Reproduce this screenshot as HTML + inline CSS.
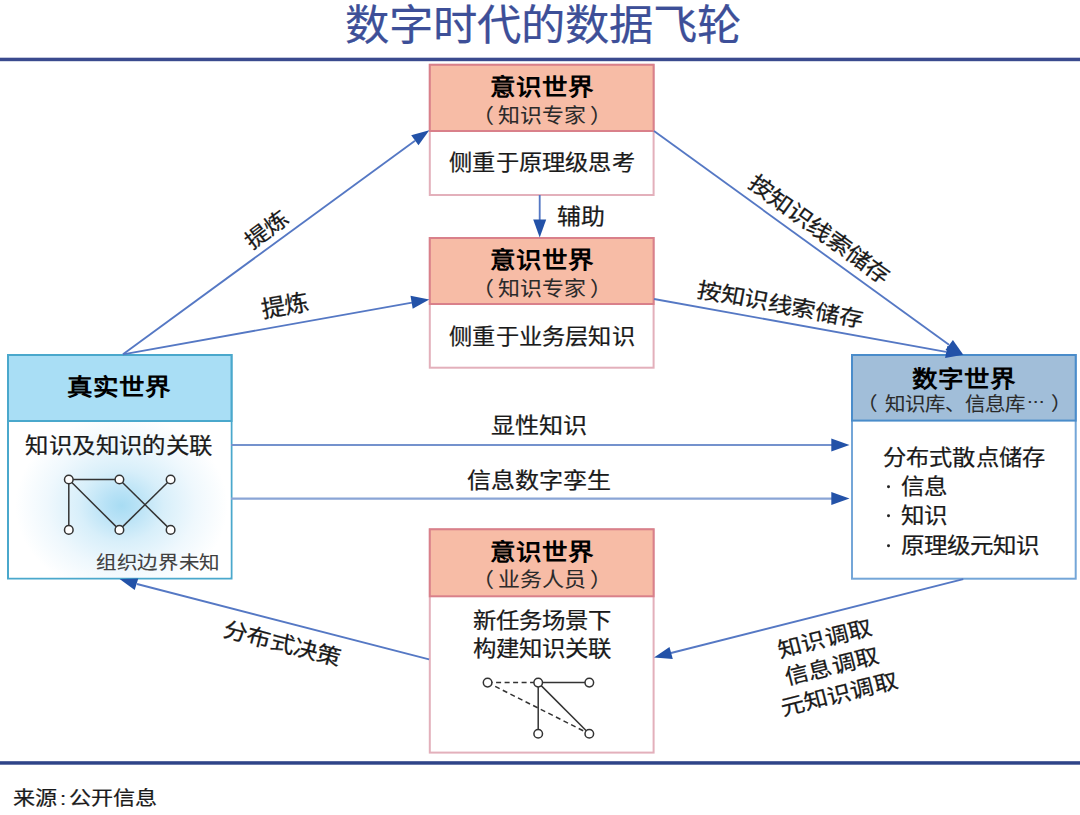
<!DOCTYPE html>
<html lang="zh-CN"><head><meta charset="utf-8"><style>
html,body{margin:0;padding:0;background:#fff;}
body{width:1080px;height:815px;position:relative;overflow:hidden;font-family:"Liberation Sans",sans-serif;color:#1a1a1a;text-spacing-trim:space-all;font-weight:400;-webkit-text-stroke:0.25px currentColor;}
.t{position:absolute;white-space:nowrap;line-height:1;transform:translate(-50%,-50%) scale(1,0.92);}
.b{font-weight:bold;color:#000;transform:translate(-50%,-50%) scale(1,0.9);-webkit-text-stroke:0;}
.s{font-size:21.9px;transform:translate(-50%,-50%) scale(1,0.92);color:#2a2a2a;-webkit-text-stroke:0.1px currentColor;}
.pl{margin-right:4px}.pr{margin-left:4px}
.dots{letter-spacing:-1px;margin-left:2px;position:relative;top:-5px;}
.bl{position:absolute;left:882px;white-space:nowrap;line-height:1;font-size:23.5px;transform:translate(0,-50%) scale(1,0.93);padding-left:18.5px;}
.bl i{position:absolute;left:4.6px;top:50%;width:3.4px;height:3.6px;margin-top:-1.9px;background:#222;border-radius:50%;}
svg{position:absolute;left:0;top:0;}
</style></head><body>
<svg width="1080" height="815" viewBox="0 0 1080 815">
<defs>
<radialGradient id="glow" cx="121.6" cy="505.6" r="106" gradientUnits="userSpaceOnUse" gradientTransform="translate(121.6 505.6) scale(1 0.85) translate(-121.6 -505.6)">
<stop offset="0" stop-color="#a8dcf3"/><stop offset="0.15" stop-color="#b8e2f6"/><stop offset="0.4" stop-color="#d8effa"/><stop offset="0.7" stop-color="#eff8fd"/><stop offset="1" stop-color="#ffffff"/>
</radialGradient>
</defs>
<!-- rules -->
<rect x="0" y="57.7" width="1080" height="3.5" fill="#3a4a8e"/>
<rect x="0" y="761.2" width="1080" height="3.5" fill="#2e4488"/>
<!-- real world box -->
<rect x="8" y="355" width="223.5" height="223.5" fill="#fff" stroke="#4aa8cc" stroke-width="2"/>
<rect x="8" y="355" width="223.5" height="66" fill="#a9def5" stroke="#4aa8cc" stroke-width="2"/>
<rect x="9" y="422" width="221.5" height="155.5" fill="url(#glow)"/>
<!-- digital box -->
<rect x="852" y="355" width="223.7" height="223.7" fill="#fff" stroke="#74a6d8" stroke-width="2"/>
<rect x="852" y="355" width="223.7" height="65.6" fill="#a1bed9" stroke="#4a8cca" stroke-width="2"/>
<!-- mind boxes -->
<rect x="429.8" y="64.8" width="223.8" height="130.2" fill="#fff" stroke="#e3b0bb" stroke-width="2"/>
<rect x="429.8" y="64.8" width="223.8" height="66.2" fill="#f7bca6" stroke="#d9808a" stroke-width="2"/>
<rect x="429.8" y="238" width="223.8" height="129.7" fill="#fff" stroke="#e3b0bb" stroke-width="2"/>
<rect x="429.8" y="238" width="223.8" height="66" fill="#f7bca6" stroke="#d9808a" stroke-width="2"/>
<rect x="429.8" y="529.3" width="223.8" height="223.3" fill="#fff" stroke="#e3b0bb" stroke-width="2"/>
<rect x="429.8" y="529.3" width="223.8" height="67" fill="#f7bca6" stroke="#d9808a" stroke-width="2"/>
<!-- arrows -->
<g stroke="#5578c4" stroke-width="1.85" fill="none">
<line x1="123" y1="354.3" x2="415" y2="140.7"/>
<line x1="123" y1="354.3" x2="412" y2="302.6"/>
<line x1="654" y1="131" x2="949" y2="344.8"/>
<line x1="654" y1="299" x2="946" y2="351.8"/>
<line x1="539.7" y1="195" x2="539.7" y2="220"/>
<line x1="231" y1="445" x2="832" y2="445" stroke="#7492cd" stroke-width="2.2"/>
<line x1="231" y1="498.6" x2="832" y2="498.6" stroke="#8aa5d6" stroke-width="2.4"/>
<line x1="963.3" y1="579.2" x2="671" y2="653"/>
<line x1="429.1" y1="659.4" x2="137" y2="584"/>
</g>
<g fill="#2352a8">
<polygon points="429.3,130.2 411.2,135.2 418.5,145.3"/>
<polygon points="429.3,299.5 410.5,295.8 412.7,308.7"/>
<polygon points="963.3,354.8 945.5,350.1 952.9,339.9"/>
<polygon points="963.3,354.8 945.1,358 947.4,345.8"/>
<polygon points="539.7,237.6 533.2,219.5 546.2,219.5"/>
<polygon points="849.5,445 831.3,438.5 831.3,451.5"/>
<polygon points="849.5,498.6 831.3,492.1 831.3,505.1"/>
<polygon points="654,657.6 669.5,647 672.8,659.1"/>
<polygon points="119.6,579 138.3,578.4 134.7,590"/>
</g>
<!-- real world graph -->
<g stroke="#333" stroke-width="1.5" fill="#fff">
<line x1="68.8" y1="479.5" x2="119.4" y2="479.5"/>
<line x1="68.8" y1="479.5" x2="68.8" y2="529.9"/>
<line x1="68.8" y1="479.5" x2="119.4" y2="529.9"/>
<line x1="119.4" y1="479.5" x2="170.6" y2="529.9"/>
<line x1="170.6" y1="479.5" x2="119.4" y2="529.9"/>
<circle cx="68.8" cy="479.5" r="4.3"/>
<circle cx="119.4" cy="479.5" r="4.3"/>
<circle cx="170.6" cy="479.5" r="4.3"/>
<circle cx="68.8" cy="529.9" r="4.3"/>
<circle cx="119.4" cy="529.9" r="4.3"/>
<circle cx="170.6" cy="529.9" r="4.3"/>
</g>
<!-- box3 graph -->
<g stroke="#333" stroke-width="1.5" fill="#fff">
<line x1="487.6" y1="682.6" x2="538.2" y2="682.6" stroke-dasharray="5,3.5"/>
<line x1="487.6" y1="682.6" x2="589.3" y2="733.8" stroke-dasharray="5,3.5"/>
<line x1="538.2" y1="682.6" x2="589.3" y2="682.6"/>
<line x1="538.2" y1="682.6" x2="538.2" y2="733.8"/>
<line x1="538.2" y1="682.6" x2="589.3" y2="733.8"/>
<circle cx="487.6" cy="682.6" r="4.3"/>
<circle cx="538.2" cy="682.6" r="4.3"/>
<circle cx="589.3" cy="682.6" r="4.3"/>
<circle cx="538.2" cy="733.8" r="4.3"/>
<circle cx="589.3" cy="733.8" r="4.3"/>
</g>
</svg>
<!-- texts -->
<div class="t" style="left:543px;top:26.2px;font-size:44.35px;color:#3d4f98;transform:translate(-50%,-50%) scale(1,0.95);">数字时代的数据飞轮</div>

<div class="t b" style="left:541.8px;top:88px;font-size:25.5px;">意识世界</div>
<div class="t s" style="left:541.5px;top:116.5px;"><span class="pl">（</span>知识专家<span class="pr">）</span></div>
<div class="t" style="left:541.6px;top:163.3px;font-size:23px;transform:translate(-50%,-50%) scale(1.01,0.93);">侧重于原理级思考</div>
<div class="t" style="left:580.5px;top:217.3px;font-size:23.9px;">辅助</div>

<div class="t b" style="left:541.8px;top:261.3px;font-size:25.5px;">意识世界</div>
<div class="t s" style="left:541.5px;top:290px;"><span class="pl">（</span>知识专家<span class="pr">）</span></div>
<div class="t" style="left:542.1px;top:336.5px;font-size:23px;transform:translate(-50%,-50%) scale(1.01,0.93);">侧重于业务层知识</div>

<div class="t b" style="left:541.8px;top:553.3px;font-size:25.5px;">意识世界</div>
<div class="t s" style="left:541.5px;top:581.3px;"><span class="pl">（</span>业务人员<span class="pr">）</span></div>
<div class="t" style="left:542.3px;top:620.8px;font-size:23.4px;">新任务场景下</div>
<div class="t" style="left:542.3px;top:649.3px;font-size:23.4px;">构建知识关联</div>

<div class="t b" style="left:119px;top:388px;font-size:25.5px;">真实世界</div>
<div class="t" style="left:119px;top:445.5px;font-size:23px;transform:translate(-50%,-50%) scale(1.018,0.93);">知识及知识的关联</div>
<div class="t" style="left:158px;top:561.8px;font-size:20px;color:#404040;-webkit-text-stroke:0.1px currentColor;transform:translate(-50%,-50%) scale(1.027,0.93);">组织边界未知</div>

<div class="t b" style="left:964px;top:379.6px;font-size:25.5px;">数字世界</div>
<div class="t s" style="left:963.7px;top:405.2px;font-size:20.5px;"><span class="pl" style="margin-right:8px">（</span>知识库、信息库<span class="dots">···</span><span class="pr" style="margin-left:6.8px">）</span></div>
<div class="t" style="left:963.8px;top:458px;font-size:23px;transform:translate(-50%,-50%) scale(1.012,0.93);">分布式散点储存</div>
<div class="bl" style="top:486.7px;"><i></i>信息</div>
<div class="bl" style="top:516px;"><i></i>知识</div>
<div class="bl" style="top:545.6px;"><i></i>原理级元知识</div>

<div class="t" style="left:539.3px;top:425.6px;font-size:24.1px;">显性知识</div>
<div class="t" style="left:538.7px;top:480.7px;font-size:24px;">信息数字孪生</div>

<div class="t" style="left:266.9px;top:229.5px;font-size:24.2px;transform:translate(-50%,-50%) rotate(-36.7deg) scale(1,0.9);">提炼</div>
<div class="t" style="left:285px;top:305.6px;font-size:24.2px;transform:translate(-50%,-50%) rotate(-10.1deg) scale(1,0.98);">提炼</div>
<div class="t" style="left:819.3px;top:230px;font-size:24.3px;transform:translate(-50%,-50%) rotate(35.9deg) scale(1,0.9);">按知识线索储存</div>
<div class="t" style="left:780.2px;top:305px;font-size:24.2px;transform:translate(-50%,-50%) rotate(10.6deg) scale(1,0.9);">按知识线索储存</div>
<div class="t" style="left:282px;top:644px;font-size:24.3px;transform:translate(-50%,-50%) rotate(14.6deg) scale(1,0.9);">分布式决策</div>
<div class="t" style="left:831.8px;top:667px;font-size:24px;line-height:32.2px;text-align:center;transform:translate(-50%,-50%) rotate(-14.2deg) scale(1,0.9);">知识调取<br>信息调取<br>元知识调取</div>

<div class="t" style="left:12.6px;top:799px;font-size:21.9px;transform-origin:0 50%;transform:translate(0,-50%) scale(1.01,0.88);">来源<span style="margin:0 2.5px 0 2.5px">:</span>公开信息</div>
</body></html>
